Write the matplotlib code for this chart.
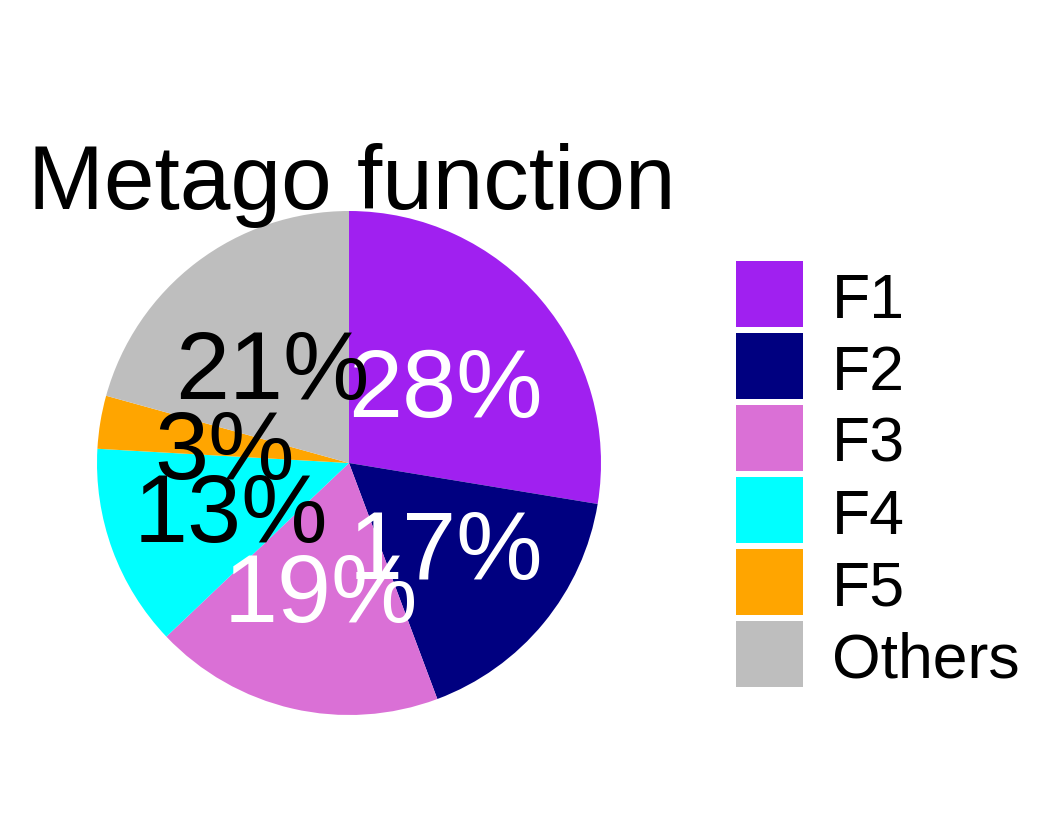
import matplotlib
matplotlib.use("Agg")
import matplotlib.pyplot as plt
from matplotlib.patches import Rectangle

categories = ["F1", "F2", "F3", "F4", "F5", "Others"]
values = [27.6, 16.7, 18.6, 13.0, 3.4, 20.7]
colors = ["#A020F0", "#000080", "#DA70D6", "#00FFFF", "#FFA500", "#BEBEBE"]
label_colors = ["white", "white", "white", "black", "black", "black"]
title = "Metago function"

plt.rcParams["font.family"] = ["Liberation Sans", "DejaVu Sans"]

W, H = 1062, 837
fig = plt.figure(figsize=(W / 100, H / 100), dpi=100)
fig.patch.set_facecolor("white")

# pie axes: square box in pixels
cx, cy, R = 349, 464, 252
ax = fig.add_axes([(cx - R) / W, (H - cy - R) / H, 2 * R / W, 2 * R / H])
wedges, texts, autotexts = ax.pie(
    values, colors=colors, startangle=90, counterclock=False,
    autopct=lambda p: f"{p:.0f}%", pctdistance=0.5, radius=1,
    wedgeprops=dict(linewidth=0),
    textprops=dict(fontsize=70),
)
for t, c in zip(autotexts, label_colors):
    t.set_color(c)
    t.set_va("center_baseline")
ax.set_xlim(-1, 1)
ax.set_ylim(-1, 1)
ax.axis("off")

fig.text(28 / W, (H - 209) / H, title, fontsize=65.5, ha="left", va="baseline")

# legend
kx, ky0, kw, kh, pitch = 736, 262, 67, 66, 72
for i, (lab, col) in enumerate(zip(categories, colors)):
    top = ky0 + i * pitch
    fig.add_artist(Rectangle((kx / W, (H - top - kh) / H), kw / W, kh / H,
                             transform=fig.transFigure, facecolor=col,
                             edgecolor="none"))
    fig.text(832 / W, (H - (top + kh / 2 + 22.5)) / H, lab, fontsize=45,
             ha="left", va="baseline")

fig.savefig("out.png", dpi=100, facecolor="white")
